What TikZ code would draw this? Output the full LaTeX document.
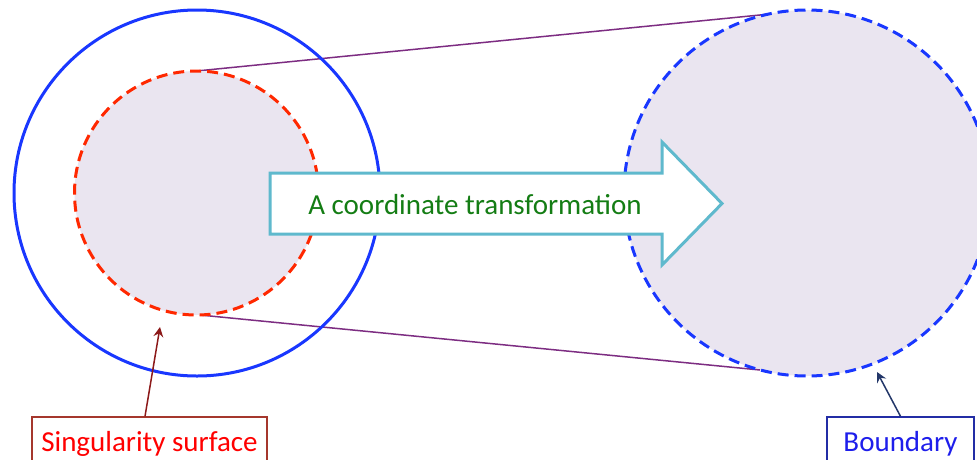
\documentclass[tikz,border=0pt]{standalone}
\usepackage{fontspec}
\setmainfont{Carlito}
\usetikzlibrary{arrows.meta}
\definecolor{lavfill}{RGB}{234,229,240}
\definecolor{circblue}{RGB}{25,55,255}
\definecolor{circred}{RGB}{255,40,0}
\definecolor{linkpurple}{RGB}{125,45,130}
\definecolor{arrowteal}{RGB}{95,185,205}
\definecolor{txtgreen}{RGB}{20,125,20}
\definecolor{sgborder}{RGB}{165,55,45}
\definecolor{sgarrow}{RGB}{140,25,25}
\definecolor{bdborder}{RGB}{35,45,165}
\definecolor{bdtext}{RGB}{30,30,235}
\definecolor{bdarrow}{RGB}{35,55,105}
\begin{document}
\begin{tikzpicture}[x=1pt,y=-1pt,
  bigtext/.style={font=\fontsize{29pt}{33pt}\selectfont},
  labelbox/.style={bigtext, draw, line width=1.4pt, anchor=base, text height=20pt, text depth=6pt, minimum height=54pt, inner xsep=0pt},
  dashline/.style={line width=3pt, dash pattern=on 11pt off 6pt},
  link/.style={linkpurple, line width=1.5pt},
  pointer/.style={line width=1.5pt, -{Stealth[length=10pt,width=10pt,inset=3.5pt]}}
]
\useasboundingbox (0,0) rectangle (977,459);
\clip (0,0) rectangle (977,459);
% centres and link points
\coordinate (Lc) at (196.5,193);
\coordinate (Rc) at (807,193);
\coordinate (redtop) at (196.5,71);
\coordinate (redbot) at (200,315);
\coordinate (rtop) at (770,14);
\coordinate (rbot) at (760,370);
% right disc fill
\fill[lavfill] (Rc) circle[radius=183pt];
% links
\draw[link] (redtop) -- (rtop);
\draw[link] (redbot) -- (rbot);
% red dashed disc
\fill[lavfill] (Lc) circle[radius=122pt];
\draw[circred, dashline] (Lc) circle[radius=122pt];
% blue solid circle
\draw[circblue, line width=3pt] (197,193) circle[radius=183pt];
% right dashed circle
\draw[circblue, dashline] (Rc) circle[radius=183pt];
% block arrow
\draw[arrowteal, fill=white, line width=3pt, line join=miter]
  (270,173) -- (662,173) -- (662,142) -- (722,203.5) -- (662,265) -- (662,234) -- (270,234) -- cycle;
\node[bigtext, text=txtgreen, anchor=base] (trans) at (475,214) {A coordinate transformation};
% labels
\node[labelbox, draw=sgborder, text=red, minimum width=235pt] (sing) at (149.5,451) {Singularity surface};
\node[labelbox, draw=bdborder, text=bdtext, minimum width=147pt] (bnd) at (900.5,451) {Boundary};
\coordinate (singtip) at (160,327);
\coordinate (bndtip) at (877,372);
\draw[pointer, sgarrow] ([xshift=-4.5pt]sing.north) -- (singtip);
\draw[pointer, bdarrow] (bnd.north) -- (bndtip);
\end{tikzpicture}
\end{document}
